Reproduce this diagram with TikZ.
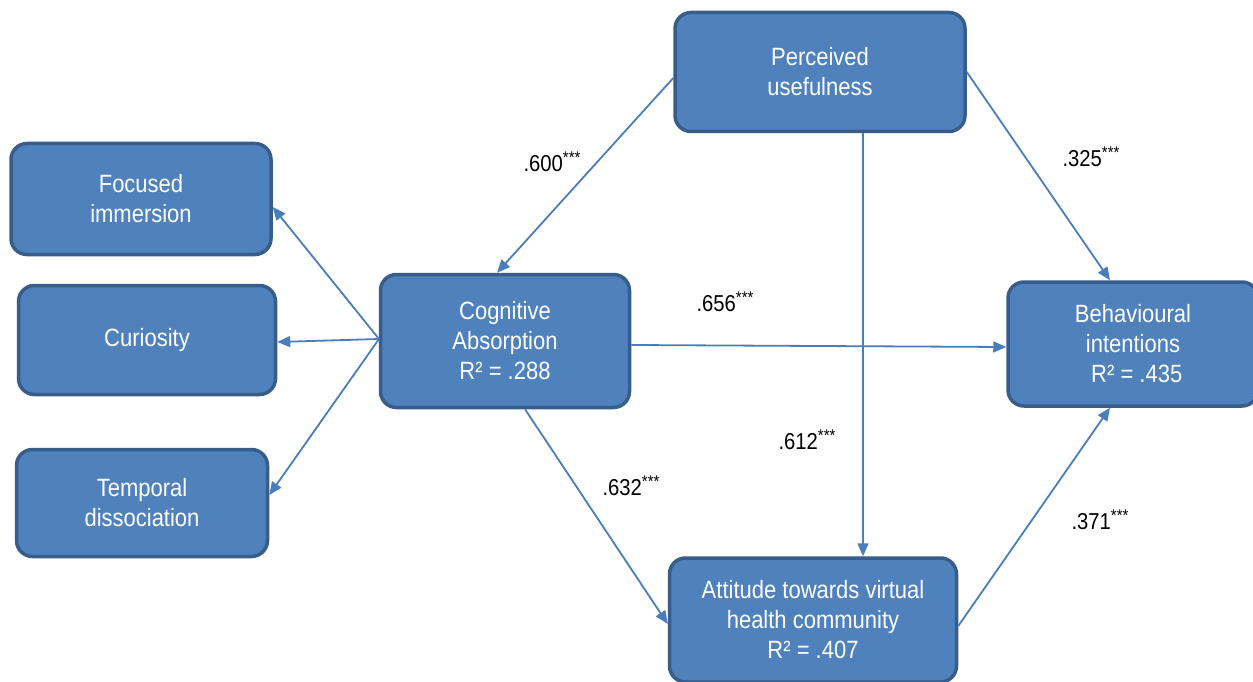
\documentclass[tikz,border=0pt]{standalone}
\usepackage{fontspec}
\setmainfont{Liberation Sans}
\newfontfamily\nar[FakeStretch=0.88]{Liberation Sans}
\usetikzlibrary{arrows.meta}
\definecolor{boxfill}{HTML}{4F81BD}
\definecolor{boxline}{HTML}{385D8A}
\definecolor{arrowc}{HTML}{4A7EBB}
\tikzset{
  x=1pt,y=-1pt,
  box/.style={draw=boxline, line width=3.5pt, fill=boxfill, rounded corners=16pt,
    text=white, align=center, font=\nar\fontsize{25}{30}\selectfont, inner sep=0pt},
  conn/.style={draw=arrowc, line width=1.8pt, -{Triangle[length=13pt,width=11pt]}},
  lab/.style={font=\nar\fontsize{23}{26}\selectfont, text=black, inner sep=0pt}
}
\newcommand{\stars}{\raisebox{0.33em}{\fontsize{17}{17}\selectfont ***}}
\begin{document}
\begin{tikzpicture}
\useasboundingbox (0,0) rectangle (1253,682);
\fill[white] (0,0) rectangle (1253,682);
\node[box, minimum width=260pt, minimum height=111pt] (fi) at (141,199) {Focused\\immersion};
\node[box, minimum width=257pt, minimum height=109pt] (cu) at (147,340) {Curiosity};
\node[box, minimum width=251pt, minimum height=107pt] (td) at (142,503) {Temporal\\dissociation};
\node[box, minimum width=249pt, minimum height=133pt] (ca) at (505,341) {Cognitive\\Absorption\\R² = .288};
\node[box, minimum width=250pt, minimum height=124pt] (bi) at (1133,344) {Behavioural\\intentions\\\hspace*{0.3em}R² = .435};
\node[box, minimum width=290pt, minimum height=119pt] (pu) at (820,72) {Perceived\\usefulness};
\node[box, minimum width=287pt, minimum height=124pt] (at) at (813,620) {Attitude towards virtual\\health community\\R² = .407};
\coordinate (caL) at (379,339);
\draw[conn] (caL) -- (fi.east |- 0,207);
\draw[conn] (caL) -- (cu.east |- 0,342);
\draw[conn] (caL) -- (td.east |- 0,495);
\draw[conn] (pu.west |- 0,78) -- (ca.north -| 497,0);
\draw[conn] (pu.east |- 0,72) -- (bi.north -| 1110,0);
\draw[conn] (pu.south -| 863,0) -- (at.north -| 863,0);
\draw[conn] (ca.east |- 0,345) -- (bi.west |- 0,347);
\draw[conn] (ca.south -| 525,0) -- (at.west |- 0,624);
\draw[conn] (at.east |- 0,626) -- (bi.south -| 1110,0);
\node[lab] (l600) at (552,162) {.600\stars};
\node[lab] (l325) at (1091,157) {.325\stars};
\node[lab] (l656) at (725,302) {.656\stars};
\node[lab] (l612) at (807,440) {.612\stars};
\node[lab] (l632) at (631,486) {.632\stars};
\node[lab] (l371) at (1100,520) {.371\stars};
\end{tikzpicture}
\end{document}
